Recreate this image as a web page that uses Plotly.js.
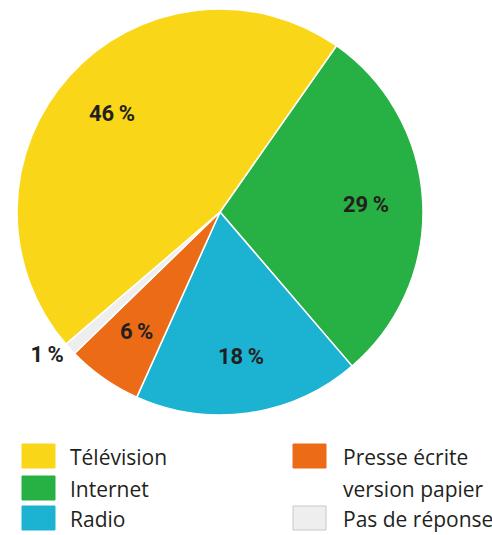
<!DOCTYPE html>
<html>
<head>
<meta charset="utf-8">
<script src="https://cdn.plot.ly/plotly-3.0.1.min.js"></script>
<style>html,body{margin:0;padding:0;background:#fff;}#chart{width:492px;height:535px;}</style>
</head>
<body>
<div id="chart"></div>
<script>
// Data (pie order, clockwise from the Internet slice)
var categories = ['Internet', 'Radio', 'Presse écrite<br>version papier', 'Pas de réponse', 'Télévision'];
var values = [29, 18, 6, 1, 46];
var colors = ['#27b043', '#1cb3d2', '#ec6b17', '#eeeeee', '#fad619'];
var outsideLabel = [false, false, false, true, false];
// Legend order
var legendOrder = ['Télévision', 'Internet', 'Radio', 'Presse écrite<br>version papier', 'Pas de réponse'];

var W = 492, H = 535;
function px(x) { return x / W; }
function py(y) { return 1 - y / H; }

// Pie geometry (pixels)
var pieLeft = 17, pieRight = 423, pieTop = 9, pieBottom = 415;
var cx = (pieLeft + pieRight) / 2, cy = (pieTop + pieBottom) / 2;
var R = Math.min(pieRight - pieLeft, pieBottom - pieTop) / 2;
var rotation = 35;

var labelFont = {family: 'Roboto, "Liberation Sans", sans-serif', size: 22, color: '#231f20', weight: 'bold'};

function fmt(v) { return v + '\u2009%'; }

var trace = {
  type: 'pie',
  labels: categories,
  values: values,
  sort: false,
  direction: 'clockwise',
  rotation: rotation,
  marker: {colors: colors, line: {color: '#ffffff', width: 1.5}},
  text: values.map(fmt),
  texttemplate: '%{text}',
  textposition: outsideLabel.map(function (o) { return o ? 'outside' : 'none'; }),
  textfont: labelFont,
  outsidetextfont: labelFont,
  hoverinfo: 'label+value',
  domain: {x: [px(pieLeft), px(pieRight)], y: [py(pieBottom), py(pieTop)]},
  showlegend: false
};

var annotations = [];
// Inside value labels, placed on each slice's middle angle
var total = values.reduce(function (a, b) { return a + b; }, 0);
var cum = 0;
values.forEach(function (v, i) {
  var mid = rotation + (cum + v / 2) / total * 360;
  cum += v;
  if (outsideLabel[i]) return;
  var a = mid * Math.PI / 180;
  var f = 0.72 * R;
  annotations.push({
    xref: 'paper', yref: 'paper',
    x: px(cx + f * Math.sin(a)), y: py(cy - f * Math.cos(a)),
    xanchor: 'center', yanchor: 'middle',
    text: fmt(v), showarrow: false, font: labelFont
  });
});

// Custom two-column legend
var shapes = [];
var colX = [22, 293];
var textX = [68, 341];
var rowBase = [465, 497, 527];
var placement = {
  'Télévision': [0, 0], 'Internet': [0, 1], 'Radio': [0, 2],
  'Presse écrite<br>version papier': [1, 0], 'Pas de réponse': [1, 2]
};
var legendFont = {family: '"Open Sans", "Noto Sans", sans-serif', size: 21, color: '#231f20'};
legendOrder.forEach(function (cat) {
  var idx = categories.indexOf(cat);
  var p = placement[cat];
  var col = p[0], row = p[1];
  var my = rowBase[row] - 9;
  shapes.push({
    type: 'rect', xref: 'paper', yref: 'paper',
    x0: px(colX[col]), x1: px(colX[col] + 33),
    y0: py(my + 12), y1: py(my - 12),
    fillcolor: colors[idx],
    line: {color: idx === 3 ? '#c8c8c8' : colors[idx], width: 1}
  });
  cat.split('<br>').forEach(function (line, k) {
    annotations.push({
      xref: 'paper', yref: 'paper',
      x: px(textX[col]), y: py(rowBase[row + k] - 8),
      xanchor: 'left', yanchor: 'middle',
      text: line, showarrow: false, font: legendFont
    });
  });
});

var layout = {
  width: W, height: H,
  margin: {l: 0, r: 0, t: 0, b: 0},
  paper_bgcolor: '#ffffff',
  showlegend: false,
  shapes: shapes,
  annotations: annotations
};

Plotly.newPlot('chart', [trace], layout, {displayModeBar: false, staticPlot: true});
</script>
</body>
</html>
